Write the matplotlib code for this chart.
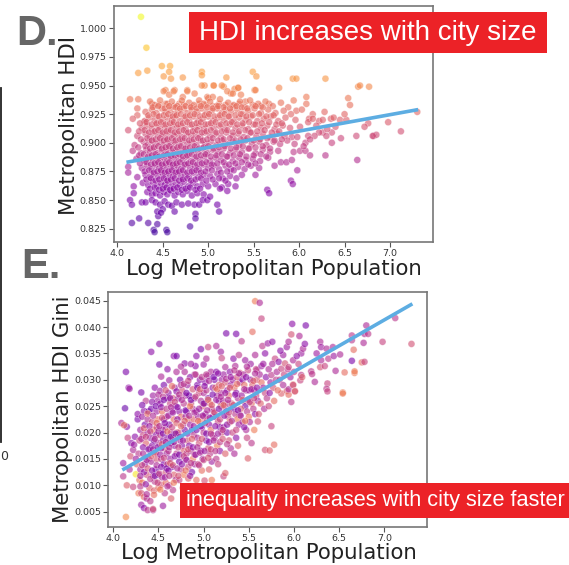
import matplotlib
matplotlib.use("Agg")
import numpy as np
import matplotlib.pyplot as plt
from matplotlib.patches import Rectangle
from matplotlib.lines import Line2D

# ---- panel D: log population vs metropolitan HDI ----
hdi_logpop = [
    4.26, 4.32, 4.23, 4.33, 4.49, 4.58, 4.51, 4.57, 4.59, 4.72,
    4.93, 4.93, 5.06, 4.96, 5.20, 5.17, 5.49, 5.53, 5.51, 5.78,
    5.93, 5.33, 5.29, 5.25, 4.14, 4.23, 4.53, 4.63, 4.77, 4.85,
    4.99, 5.97, 6.29, 6.65, 6.67, 6.77, 6.54, 6.56, 5.94, 6.08,
    6.08, 5.97, 6.28, 7.30, 6.98, 6.76, 6.72, 6.82, 6.85, 7.12,
    4.51, 4.57, 4.62, 4.77, 4.72, 4.93, 5.06, 5.15, 5.21, 5.27,
    5.33, 5.36, 5.52, 5.41, 5.00, 5.05, 4.38, 4.46, 4.53, 4.62,
    4.68, 4.73, 4.82, 4.90, 4.97, 5.05, 5.12, 5.19, 5.27, 5.34,
    5.49, 5.58, 5.67, 4.22, 4.22, 4.30,
    4.36, 4.41, 4.47, 4.55, 4.60, 4.66, 4.71, 4.79, 4.84, 4.90, 4.95, 5.02,
    5.09, 5.13, 5.22, 5.28, 5.35, 5.40, 5.46, 5.55, 5.63, 5.71, 5.80, 5.88,
    4.31, 4.38, 4.43, 4.49, 4.53, 4.58, 4.62, 4.67, 4.73, 4.77, 4.82, 4.88, 4.93, 4.98, 5.04,
    5.10, 5.15, 5.19, 5.25, 5.32, 5.38, 5.44, 5.51, 5.58, 5.66, 5.74, 5.83, 5.91, 6.03, 6.15,
    4.17, 4.30, 4.35, 4.41, 4.45, 4.50, 4.55, 4.60, 4.64, 4.69, 4.74, 4.79, 4.84, 4.89, 4.94, 5.00, 5.05,
    5.11, 5.17, 5.22, 5.28, 5.34, 5.41, 5.47, 5.54, 5.61, 5.69, 5.77, 5.85, 5.96, 6.11, 6.22, 6.35, 6.45,
    4.12, 4.27, 4.33, 4.38, 4.43, 4.47, 4.52, 4.56, 4.61, 4.65, 4.70, 4.75, 4.80, 4.85, 4.90, 4.95, 5.00,
    5.06, 5.12, 5.18, 5.24, 5.30, 5.37, 5.44, 5.50, 5.58, 5.65, 5.73, 5.82, 5.90, 6.01, 6.19, 6.40,
    4.22, 4.31, 4.36, 4.40, 4.45, 4.49, 4.53, 4.57, 4.62, 4.66, 4.71, 4.76, 4.81, 4.86, 4.91, 4.96, 5.02,
    5.08, 5.14, 5.20, 5.27, 5.33, 5.39, 5.46, 5.53, 5.60, 5.68, 5.76, 5.84, 5.92, 6.10, 6.26, 6.36,
    4.19, 4.29, 4.34, 4.38, 4.42, 4.47, 4.51, 4.55, 4.59, 4.63, 4.68, 4.72, 4.77, 4.82, 4.87, 4.92, 4.97,
    5.03, 5.09, 5.15, 5.21, 5.27, 5.34, 5.41, 5.48, 5.56, 5.64, 5.72, 5.79, 5.87, 5.95, 6.07, 6.36,
    4.17, 4.26, 4.32, 4.36, 4.40, 4.44, 4.49, 4.53, 4.57, 4.61, 4.65, 4.70, 4.74, 4.79, 4.84, 4.89, 4.94,
    4.99, 5.05, 5.11, 5.17, 5.24, 5.30, 5.37, 5.44, 5.52, 5.60, 5.68, 5.77, 5.94, 6.01, 6.07, 6.12, 6.29,
    4.21, 4.30, 4.35, 4.39, 4.43, 4.47, 4.51, 4.55, 4.59, 4.63, 4.67, 4.72, 4.76, 4.81, 4.86, 4.91,
    4.96, 5.02, 5.08, 5.14, 5.20, 5.27, 5.34, 5.41, 5.49, 5.57, 5.66, 5.73, 5.80, 5.86, 5.92, 6.64,
    4.12, 4.27, 4.33, 4.38, 4.42, 4.46, 4.50, 4.54, 4.58, 4.62, 4.66, 4.70, 4.75,
    4.80, 4.85, 4.90, 4.95, 5.00, 5.06, 5.12, 5.19, 5.25, 5.33, 5.40, 5.47, 5.56,
    4.12, 4.22, 4.31, 4.36, 4.40, 4.45, 4.49, 4.53, 4.57, 4.61, 4.66, 4.70, 4.74,
    4.79, 4.84, 4.89, 4.95, 5.02, 5.10, 5.16, 5.24, 5.31, 5.37, 5.52, 5.98,
    4.18, 4.28, 4.34, 4.39, 4.44, 4.48, 4.52, 4.56, 4.60, 4.64, 4.69, 4.73,
    4.78, 4.83, 4.88, 4.94, 5.00, 5.08, 5.15, 5.22, 5.30, 5.91, 5.93,
    4.18, 4.33, 4.38, 4.42, 4.47, 4.51, 4.55, 4.59, 4.63, 4.67,
    4.72, 4.77, 4.82, 4.88, 4.95, 5.13, 5.21, 5.65, 5.67,
    4.14, 4.16, 4.27, 4.31, 4.38, 4.42, 4.47, 4.52, 4.56, 4.60,
    4.65, 4.71, 4.78, 4.85, 4.90, 4.94, 4.99, 5.10, 5.12,
    4.16, 4.24, 4.34, 4.40, 4.54, 4.44, 4.45, 4.44, 4.50, 4.80,
    4.86, 4.55, 4.63, 4.86, 5.02, 4.41, 4.48,
    6.22, 6.17, 6.30, 6.12, 6.05, 5.98, 6.46, 6.63, 6.81, 6.10,
    6.15, 6.26, 6.38, 6.52, 6.50, 6.31,
    # denser core, in between the rows above
    4.39, 4.45, 4.52, 4.57, 4.64, 4.69, 4.75, 4.81, 4.87, 4.92,
    4.99, 5.05, 5.11, 5.17, 5.24, 5.31, 5.37, 5.43, 5.52, 5.60,
    4.34, 4.40, 4.46, 4.51, 4.56, 4.61, 4.65, 4.70, 4.75, 4.80, 4.85, 4.91, 4.96,
    5.01, 5.07, 5.13, 5.18, 5.23, 5.30, 5.36, 5.42, 5.49, 5.56, 5.64, 5.72,
    4.25, 4.32, 4.38, 4.43, 4.48, 4.53, 4.58, 4.62, 4.67, 4.72, 4.77, 4.82, 4.87, 4.92,
    4.97, 5.03, 5.08, 5.14, 5.20, 5.26, 5.32, 5.38, 5.45, 5.52, 5.59, 5.67, 5.75, 5.81,
    4.24, 4.30, 4.35, 4.41, 4.45, 4.50, 4.54, 4.59, 4.63, 4.68, 4.73, 4.78, 4.83, 4.88,
    4.93, 4.98, 5.03, 5.09, 5.15, 5.21, 5.27, 5.34, 5.41, 5.47, 5.54, 5.62, 5.70, 5.78,
    4.26, 4.33, 4.38, 4.42, 4.47, 4.51, 4.55, 4.60, 4.64, 4.69, 4.74, 4.79, 4.84, 4.89,
    4.94, 4.99, 5.05, 5.11, 5.17, 5.24, 5.30, 5.36, 5.43, 5.50, 5.57, 5.65, 5.73, 5.81,
    4.23, 4.31, 4.36, 4.40, 4.45, 4.49, 4.53, 4.57, 4.61, 4.66, 4.70, 4.75, 4.80, 4.85,
    4.90, 4.95, 5.00, 5.06, 5.12, 5.18, 5.25, 5.31, 5.38, 5.45, 5.52, 5.60, 5.68,
    4.24, 4.29, 4.34, 4.38, 4.42, 4.46, 4.51, 4.55, 4.59, 4.63, 4.68, 4.72, 4.77, 4.82,
    4.87, 4.92, 4.97, 5.03, 5.09, 5.15, 5.21, 5.28, 5.35, 5.42, 5.50, 5.58, 5.64,
    4.25, 4.32, 4.37, 4.41, 4.45, 4.49, 4.53, 4.57, 4.61, 4.65, 4.69, 4.74, 4.78,
    4.83, 4.88, 4.93, 4.98, 5.04, 5.10, 5.17, 5.23, 5.30, 5.37, 5.44, 5.52,
    4.30, 4.35, 4.40, 4.44, 4.48, 4.52, 4.56, 4.60, 4.64, 4.68,
    4.72, 4.77, 4.82, 4.87, 4.92, 4.97, 5.04, 5.14, 5.21, 5.28,
    4.32, 4.37, 4.42, 4.46, 4.51, 4.55, 4.59, 4.63, 4.68,
    4.72, 4.77, 4.81, 4.86, 4.92, 4.98, 5.05, 5.12, 5.19,
    4.36, 4.41, 4.46, 4.50, 4.54, 4.58, 4.62, 4.66, 4.71, 4.75, 4.80, 4.86, 4.91,
]
hdi_value = [
    1.010, 0.983, 0.961, 0.963, 0.967, 0.967, 0.958, 0.962, 0.956, 0.957,
    0.962, 0.959, 0.950, 0.950, 0.957, 0.949, 0.962, 0.958, 0.946, 0.948,
    0.956, 0.948, 0.947, 0.943, 0.938, 0.938, 0.946, 0.946, 0.946, 0.943,
    0.940, 0.956, 0.956, 0.949, 0.950, 0.949, 0.939, 0.933, 0.937, 0.940,
    0.934, 0.928, 0.927, 0.927, 0.918, 0.917, 0.914, 0.906, 0.907, 0.910,
    0.945, 0.942, 0.945, 0.945, 0.940, 0.950, 0.950, 0.950, 0.945, 0.943,
    0.948, 0.942, 0.946, 0.936, 0.939, 0.940, 0.934, 0.933, 0.934, 0.932,
    0.934, 0.933, 0.932, 0.934, 0.933, 0.932, 0.934, 0.933, 0.932, 0.934,
    0.933, 0.932, 0.934, 0.930, 0.924, 0.918,
    0.936, 0.933, 0.937, 0.934, 0.936, 0.932, 0.937, 0.935, 0.933, 0.937, 0.934, 0.936,
    0.932, 0.938, 0.935, 0.933, 0.936, 0.931, 0.937, 0.934, 0.936, 0.932, 0.935, 0.931,
    0.927, 0.929, 0.926, 0.930, 0.927, 0.929, 0.925, 0.928, 0.930, 0.926, 0.929, 0.927, 0.930, 0.926, 0.928,
    0.930, 0.926, 0.929, 0.927, 0.929, 0.925, 0.928, 0.930, 0.926, 0.929, 0.926, 0.928, 0.925, 0.929, 0.925,
    0.921, 0.919, 0.922, 0.920, 0.923, 0.919, 0.922, 0.920, 0.923, 0.919, 0.922, 0.920, 0.923, 0.919, 0.921, 0.923, 0.919,
    0.922, 0.920, 0.923, 0.919, 0.922, 0.920, 0.923, 0.919, 0.921, 0.923, 0.919, 0.922, 0.920, 0.921, 0.919, 0.921, 0.920,
    0.911, 0.913, 0.915, 0.912, 0.916, 0.913, 0.915, 0.912, 0.916, 0.913, 0.915, 0.912, 0.916, 0.913, 0.915, 0.912, 0.916,
    0.913, 0.915, 0.912, 0.916, 0.913, 0.915, 0.912, 0.916, 0.913, 0.915, 0.912, 0.915, 0.913, 0.914, 0.915, 0.914,
    0.906, 0.908, 0.905, 0.909, 0.906, 0.908, 0.905, 0.909, 0.906, 0.908, 0.905, 0.909, 0.906, 0.908, 0.905, 0.909, 0.906,
    0.908, 0.905, 0.909, 0.906, 0.908, 0.905, 0.909, 0.906, 0.908, 0.905, 0.908, 0.906, 0.905, 0.906, 0.909, 0.909,
    0.898, 0.901, 0.899, 0.902, 0.899, 0.901, 0.898, 0.902, 0.899, 0.901, 0.898, 0.902, 0.899, 0.901, 0.898, 0.902, 0.899,
    0.901, 0.898, 0.902, 0.899, 0.901, 0.898, 0.902, 0.899, 0.901, 0.898, 0.901, 0.899, 0.902, 0.899, 0.900, 0.900,
    0.893, 0.891, 0.894, 0.892, 0.895, 0.891, 0.894, 0.892, 0.895, 0.891, 0.894, 0.892, 0.895, 0.891, 0.894, 0.892, 0.895,
    0.891, 0.894, 0.892, 0.895, 0.891, 0.894, 0.892, 0.895, 0.891, 0.894, 0.892, 0.893, 0.892, 0.893, 0.893, 0.889, 0.889,
    0.886, 0.884, 0.887, 0.885, 0.888, 0.884, 0.887, 0.885, 0.888, 0.884, 0.887, 0.885, 0.888, 0.884, 0.887, 0.885,
    0.888, 0.884, 0.887, 0.885, 0.888, 0.884, 0.887, 0.885, 0.886, 0.884, 0.887, 0.880, 0.883, 0.883, 0.885, 0.885,
    0.879, 0.878, 0.880, 0.877, 0.881, 0.878, 0.880, 0.877, 0.881, 0.878, 0.880, 0.877, 0.881,
    0.878, 0.880, 0.877, 0.881, 0.878, 0.880, 0.877, 0.880, 0.877, 0.879, 0.877, 0.880, 0.878,
    0.874, 0.870, 0.872, 0.870, 0.873, 0.871, 0.874, 0.870, 0.873, 0.871, 0.874, 0.870, 0.873,
    0.871, 0.874, 0.870, 0.872, 0.871, 0.873, 0.869, 0.871, 0.869, 0.872, 0.872, 0.876,
    0.862, 0.865, 0.863, 0.866, 0.862, 0.865, 0.863, 0.866, 0.862, 0.865, 0.863, 0.866,
    0.862, 0.865, 0.862, 0.864, 0.862, 0.864, 0.861, 0.864, 0.862, 0.867, 0.864,
    0.856, 0.857, 0.855, 0.856, 0.854, 0.857, 0.855, 0.858, 0.854, 0.857,
    0.855, 0.858, 0.854, 0.856, 0.855, 0.860, 0.858, 0.859, 0.856,
    0.850, 0.846, 0.848, 0.848, 0.850, 0.848, 0.846, 0.849, 0.846, 0.845,
    0.848, 0.846, 0.847, 0.846, 0.846, 0.850, 0.850, 0.846, 0.840,
    0.830, 0.834, 0.830, 0.824, 0.824, 0.829, 0.836, 0.840, 0.842, 0.827,
    0.838, 0.822, 0.840, 0.834, 0.853, 0.822, 0.839,
    0.909, 0.906, 0.906, 0.903, 0.897, 0.905, 0.904, 0.906, 0.906, 0.918,
    0.921, 0.920, 0.922, 0.920, 0.925, 0.912,
    # denser core
    0.931, 0.932, 0.930, 0.932, 0.931, 0.930, 0.932, 0.931, 0.930, 0.932,
    0.931, 0.930, 0.932, 0.931, 0.930, 0.932, 0.931, 0.930, 0.932, 0.931,
    0.924, 0.925, 0.923, 0.924, 0.925, 0.923, 0.924, 0.925, 0.923, 0.924, 0.925, 0.923, 0.924,
    0.925, 0.923, 0.924, 0.925, 0.923, 0.924, 0.925, 0.923, 0.924, 0.925, 0.923, 0.924,
    0.917, 0.918, 0.916, 0.917, 0.918, 0.916, 0.917, 0.918, 0.916, 0.917, 0.918, 0.916, 0.917, 0.918,
    0.916, 0.917, 0.918, 0.916, 0.917, 0.918, 0.916, 0.917, 0.918, 0.916, 0.917, 0.918, 0.916, 0.917,
    0.910, 0.911, 0.909, 0.910, 0.911, 0.909, 0.910, 0.911, 0.909, 0.910, 0.911, 0.909, 0.910, 0.911,
    0.909, 0.910, 0.911, 0.909, 0.910, 0.911, 0.909, 0.910, 0.911, 0.909, 0.910, 0.911, 0.909, 0.910,
    0.903, 0.904, 0.902, 0.903, 0.904, 0.902, 0.903, 0.904, 0.902, 0.903, 0.904, 0.902, 0.903, 0.904,
    0.902, 0.903, 0.904, 0.902, 0.903, 0.904, 0.902, 0.903, 0.904, 0.902, 0.903, 0.904, 0.902, 0.903,
    0.896, 0.897, 0.895, 0.896, 0.897, 0.895, 0.896, 0.897, 0.895, 0.896, 0.897, 0.895, 0.896, 0.897,
    0.895, 0.896, 0.897, 0.895, 0.896, 0.897, 0.895, 0.896, 0.897, 0.895, 0.896, 0.897, 0.895,
    0.889, 0.890, 0.888, 0.889, 0.890, 0.888, 0.889, 0.890, 0.888, 0.889, 0.890, 0.888, 0.889, 0.890,
    0.888, 0.889, 0.890, 0.888, 0.889, 0.890, 0.888, 0.889, 0.890, 0.888, 0.889, 0.890, 0.888,
    0.882, 0.883, 0.881, 0.882, 0.883, 0.881, 0.882, 0.883, 0.881, 0.882, 0.883, 0.881, 0.882,
    0.883, 0.881, 0.882, 0.883, 0.881, 0.882, 0.883, 0.881, 0.882, 0.883, 0.881, 0.882,
    0.875, 0.876, 0.874, 0.875, 0.876, 0.874, 0.875, 0.876, 0.874, 0.875,
    0.876, 0.874, 0.875, 0.876, 0.874, 0.875, 0.876, 0.874, 0.875, 0.876,
    0.868, 0.869, 0.867, 0.868, 0.869, 0.867, 0.868, 0.869, 0.867,
    0.868, 0.869, 0.867, 0.868, 0.869, 0.867, 0.868, 0.869, 0.867,
    0.860, 0.861, 0.859, 0.860, 0.861, 0.859, 0.860, 0.861, 0.859, 0.860, 0.861, 0.859, 0.860,
]

# ---- panel E: log population vs HDI Gini, coloured by the city's HDI ----
gini_logpop = [
    4.11, 4.11, 4.09, 4.15, 4.13, 4.12, 4.14, 4.17, 4.14, 4.18, 4.16, 4.19, 4.20, 4.18, 4.15,
    4.22, 4.22, 4.24, 4.25, 4.23, 4.26, 4.27, 4.28, 4.29, 4.30, 4.27, 4.29, 4.30, 4.28, 4.25,
    4.31, 4.31, 4.31, 4.34, 4.34, 4.34, 4.37, 4.38, 4.32, 4.33, 4.35, 4.36,
    4.33, 4.35, 4.37, 4.32, 4.38, 4.39, 4.36, 4.40, 4.39, 4.40, 4.34, 4.38,
    4.42, 4.44, 4.44, 4.44, 4.46, 4.42, 4.43, 4.45, 4.41, 4.43, 4.46, 4.42, 4.47,
    4.44, 4.48, 4.49, 4.47, 4.50, 4.48, 4.50, 4.45, 4.49, 4.46, 4.41, 4.48, 4.50,
    4.51, 4.51, 4.52, 4.53, 4.53, 4.55, 4.57, 4.52, 4.54, 4.56, 4.58, 4.52, 4.55, 4.57,
    4.59, 4.53, 4.56, 4.58, 4.54, 4.60, 4.59, 4.60, 4.56, 4.58, 4.55, 4.53, 4.60,
    4.62, 4.67, 4.70, 4.70, 4.64, 4.66, 4.61, 4.63, 4.65, 4.67, 4.62, 4.64, 4.66,
    4.68, 4.61, 4.63, 4.65, 4.67, 4.69, 4.62, 4.69, 4.70, 4.68, 4.64, 4.70, 4.66,
    4.73, 4.79, 4.79, 4.74, 4.76, 4.72, 4.78, 4.73, 4.75, 4.77, 4.79, 4.72,
    4.74, 4.76, 4.78, 4.80, 4.73, 4.75, 4.78, 4.80, 4.71, 4.77, 4.80,
    4.83, 4.82, 4.84, 4.86, 4.88, 4.81, 4.83, 4.85, 4.87, 4.89, 4.82,
    4.84, 4.86, 4.88, 4.90, 4.83, 4.87, 4.90, 4.85, 4.89, 4.81, 4.90,
    4.91, 4.91, 4.92, 5.00, 4.93, 4.95, 4.97, 4.99, 4.92, 4.94, 4.96,
    4.98, 5.00, 4.93, 4.95, 4.97, 4.99, 4.94, 4.98, 5.00, 4.96, 5.00,
    5.01, 5.04, 5.09, 5.02, 5.03, 5.05, 5.07, 5.09, 5.02, 5.04, 5.06,
    5.08, 5.10, 5.03, 5.05, 5.07, 5.09, 5.06, 5.10, 5.08, 5.01, 5.10,
    5.14, 5.14, 5.19, 5.20, 5.12, 5.13, 5.15, 5.17, 5.19, 5.11, 5.13,
    5.16, 5.18, 5.20, 5.12, 5.15, 5.18, 5.14, 5.20, 5.17, 5.19, 5.16,
    5.22, 5.24, 5.24, 5.25, 5.22, 5.24, 5.26, 5.28, 5.21, 5.23, 5.25,
    5.27, 5.29, 5.22, 5.26, 5.28, 5.30, 5.24, 5.30, 5.29, 5.27,
    5.33, 5.35, 5.36, 5.39, 5.40, 5.40, 5.32, 5.34, 5.36, 5.38, 5.31,
    5.33, 5.35, 5.37, 5.39, 5.32, 5.36, 5.38, 5.34, 5.40, 5.37,
    5.42, 5.46, 5.49, 5.47, 5.49, 5.43, 5.45, 5.47, 5.42, 5.44,
    5.46, 5.48, 5.50, 5.43, 5.45, 5.48, 5.50, 5.41, 5.44,
    5.54, 5.57, 5.57, 5.59, 5.53, 5.60, 5.52, 5.54, 5.56, 5.58,
    5.60, 5.53, 5.55, 5.57, 5.59, 5.51, 5.56, 5.52, 5.58,
    5.62, 5.64, 5.64, 5.65, 5.68, 5.68, 5.62, 5.64, 5.66, 5.68, 5.70, 5.63, 5.67, 5.69, 5.61, 5.66,
    5.71, 5.75, 5.76, 5.79, 5.75, 5.78, 5.73, 5.72, 5.74, 5.77, 5.80, 5.73, 5.78, 5.76, 5.72,
    5.81, 5.83, 5.86, 5.88, 5.90, 5.86, 5.84, 5.88, 5.82, 5.85, 5.89,
    5.92, 5.93, 5.94, 5.94, 5.92, 5.94, 5.94, 5.97, 5.97, 5.98, 5.99, 5.99, 5.99, 5.96, 6.00,
    6.01, 6.01, 6.06, 6.07, 6.08, 6.09, 6.08, 6.10, 6.03, 6.05,
    6.12, 6.13, 6.19, 6.20, 6.23, 6.25, 6.29, 6.30, 6.29, 6.30, 6.34, 6.36, 6.38,
    6.43, 6.44, 6.51, 6.37, 6.36, 6.37, 6.46, 6.54, 6.56, 6.67, 6.64, 6.64, 6.66,
    6.64, 6.67, 6.75, 6.78, 6.77, 6.78, 6.82, 6.80, 6.98, 7.12, 7.30, 6.54,
    4.92, 5.03, 4.86, 4.97, 5.05, 4.60, 4.75,
    # denser core band
    4.30, 4.32, 4.33, 4.31, 4.34, 4.32, 4.30,
    4.36, 4.38, 4.37, 4.39, 4.36, 4.40, 4.38, 4.37,
    4.41, 4.43, 4.42, 4.44, 4.45, 4.41, 4.44, 4.43, 4.45,
    4.46, 4.48, 4.47, 4.49, 4.46, 4.50, 4.48, 4.47, 4.49, 4.50,
    4.51, 4.53, 4.52, 4.54, 4.55, 4.51, 4.54, 4.53, 4.55, 4.52,
    4.57, 4.59, 4.56, 4.58, 4.60, 4.57, 4.59, 4.56, 4.58, 4.60,
    4.61, 4.63, 4.62, 4.64, 4.65, 4.61, 4.63, 4.65, 4.62, 4.64,
    4.66, 4.68, 4.67, 4.69, 4.70, 4.66, 4.68, 4.70, 4.67,
    4.71, 4.73, 4.72, 4.74, 4.75, 4.71, 4.73, 4.75, 4.72,
    4.76, 4.78, 4.77, 4.79, 4.80, 4.76, 4.78, 4.80,
    4.81, 4.83, 4.82, 4.84, 4.85, 4.81, 4.83, 4.85,
    4.86, 4.88, 4.87, 4.89, 4.90, 4.86, 4.88, 4.90,
    4.91, 4.93, 4.92, 4.94, 4.95, 4.91, 4.93, 4.95,
    4.96, 4.98, 4.97, 4.99, 5.00, 4.96, 4.98, 5.00,
    5.01, 5.03, 5.02, 5.04, 5.05, 5.01, 5.03, 5.05,
    5.06, 5.08, 5.07, 5.09, 5.10, 5.06, 5.08,
    5.11, 5.13, 5.12, 5.14, 5.15, 5.11, 5.13,
    5.16, 5.18, 5.17, 5.19, 5.20, 5.16, 5.18,
    5.21, 5.23, 5.22, 5.24, 5.25, 5.21,
    5.26, 5.28, 5.27, 5.29, 5.30, 5.26,
    5.31, 5.33, 5.35, 5.37, 5.39, 5.36, 5.38, 5.34,
    5.41, 5.43, 5.45, 5.47, 5.49, 5.46, 5.48,
    5.51, 5.53, 5.55, 5.57, 5.59, 5.56,
]
gini_value = [
    0.0142, 0.0117, 0.0218, 0.0211, 0.0246, 0.0214, 0.0315, 0.0285, 0.0040, 0.0283, 0.0190, 0.0155, 0.0180, 0.0130, 0.0100,
    0.0167, 0.0097, 0.0192, 0.0121, 0.0177, 0.0140, 0.0225, 0.0160, 0.0110, 0.0205, 0.0235, 0.0185, 0.0130, 0.0085, 0.0150,
    0.0276, 0.0085, 0.0063, 0.0241, 0.0078, 0.0057, 0.0075, 0.0053, 0.0230, 0.0195, 0.0215, 0.0180,
    0.0160, 0.0140, 0.0120, 0.0105, 0.0200, 0.0240, 0.0260, 0.0170, 0.0150, 0.0095, 0.0125, 0.0225,
    0.0353, 0.0270, 0.0053, 0.0055, 0.0107, 0.0245, 0.0220, 0.0205, 0.0190, 0.0175, 0.0160, 0.0145, 0.0130,
    0.0118, 0.0240, 0.0225, 0.0195, 0.0180, 0.0150, 0.0120, 0.0090, 0.0260, 0.0285, 0.0070, 0.0210, 0.0095,
    0.0368, 0.0329, 0.0279, 0.0306, 0.0101, 0.0061, 0.0085, 0.0255, 0.0240, 0.0225, 0.0210, 0.0195, 0.0185, 0.0170,
    0.0160, 0.0150, 0.0140, 0.0125, 0.0115, 0.0190, 0.0230, 0.0265, 0.0290, 0.0105, 0.0205, 0.0170, 0.0140,
    0.0299, 0.0345, 0.0315, 0.0345, 0.0075, 0.0091, 0.0275, 0.0255, 0.0240, 0.0225, 0.0215, 0.0200, 0.0190,
    0.0175, 0.0165, 0.0150, 0.0135, 0.0120, 0.0110, 0.0100, 0.0250, 0.0200, 0.0285, 0.0180, 0.0160, 0.0265,
    0.0110, 0.0331, 0.0315, 0.0300, 0.0280, 0.0265, 0.0255, 0.0240, 0.0230, 0.0215, 0.0205, 0.0200,
    0.0185, 0.0175, 0.0165, 0.0150, 0.0145, 0.0130, 0.0120, 0.0230, 0.0225, 0.0095, 0.0270,
    0.0113, 0.0290, 0.0270, 0.0255, 0.0245, 0.0240, 0.0225, 0.0215, 0.0205, 0.0195, 0.0185,
    0.0175, 0.0165, 0.0150, 0.0140, 0.0135, 0.0125, 0.0310, 0.0305, 0.0225, 0.0160, 0.0265,
    0.0326, 0.0310, 0.0110, 0.0329, 0.0290, 0.0275, 0.0260, 0.0250, 0.0240, 0.0230, 0.0220,
    0.0210, 0.0200, 0.0190, 0.0180, 0.0165, 0.0150, 0.0140, 0.0128, 0.0275, 0.0300, 0.0230,
    0.0109, 0.0307, 0.0110, 0.0295, 0.0280, 0.0265, 0.0255, 0.0245, 0.0235, 0.0225, 0.0215,
    0.0205, 0.0195, 0.0185, 0.0170, 0.0160, 0.0145, 0.0130, 0.0285, 0.0315, 0.0255, 0.0230,
    0.0364, 0.0315, 0.0353, 0.0341, 0.0300, 0.0285, 0.0270, 0.0260, 0.0250, 0.0240, 0.0230,
    0.0220, 0.0210, 0.0200, 0.0190, 0.0175, 0.0165, 0.0150, 0.0300, 0.0290, 0.0275, 0.0140,
    0.0117, 0.0123, 0.0324, 0.0388, 0.0310, 0.0295, 0.0280, 0.0270, 0.0260, 0.0250, 0.0240,
    0.0230, 0.0220, 0.0210, 0.0200, 0.0185, 0.0170, 0.0160, 0.0290, 0.0315, 0.0255,
    0.0340, 0.0326, 0.0387, 0.0347, 0.0313, 0.0233, 0.0300, 0.0285, 0.0275, 0.0265, 0.0255,
    0.0245, 0.0235, 0.0225, 0.0215, 0.0200, 0.0190, 0.0175, 0.0160, 0.0295, 0.0305,
    0.0373, 0.0337, 0.0318, 0.0205, 0.0151, 0.0300, 0.0290, 0.0280, 0.0270, 0.0260,
    0.0250, 0.0240, 0.0230, 0.0220, 0.0210, 0.0190, 0.0280, 0.0245, 0.0310,
    0.0391, 0.0449, 0.0347, 0.0318, 0.0180, 0.0221, 0.0300, 0.0290, 0.0280, 0.0270,
    0.0260, 0.0255, 0.0245, 0.0235, 0.0300, 0.0220, 0.0205, 0.0330, 0.0320,
    0.0446, 0.0416, 0.0326, 0.0364, 0.0350, 0.0167, 0.0310, 0.0295, 0.0285, 0.0275, 0.0265, 0.0255, 0.0245, 0.0305, 0.0235, 0.0330,
    0.0369, 0.0309, 0.0372, 0.0340, 0.0212, 0.0177, 0.0166, 0.0320, 0.0295, 0.0285, 0.0300, 0.0275, 0.0260, 0.0330, 0.0250,
    0.0315, 0.0334, 0.0321, 0.0347, 0.0331, 0.0274, 0.0300, 0.0290, 0.0280, 0.0355, 0.0310,
    0.0362, 0.0320, 0.0372, 0.0324, 0.0279, 0.0272, 0.0282, 0.0258, 0.0386, 0.0406, 0.0337, 0.0291, 0.0290, 0.0305, 0.0315,
    0.0279, 0.0278, 0.0383, 0.0299, 0.0309, 0.0305, 0.0350, 0.0359, 0.0345, 0.0330,
    0.0368, 0.0403, 0.0316, 0.0311, 0.0296, 0.0350, 0.0372, 0.0362, 0.0324, 0.0337, 0.0326, 0.0359, 0.0340,
    0.0362, 0.0345, 0.0348, 0.0293, 0.0283, 0.0278, 0.0317, 0.0276, 0.0314, 0.0313, 0.0384, 0.0375, 0.0357,
    0.0336, 0.0316, 0.0333, 0.0334, 0.0370, 0.0387, 0.0387, 0.0403, 0.0372, 0.0417, 0.0368, 0.0274,
    0.0345, 0.0340, 0.0330, 0.0358, 0.0362, 0.0320, 0.0325,
    # denser core band
    0.0118, 0.0138, 0.0172, 0.0188, 0.0208, 0.0252, 0.0098,
    0.0102, 0.0132, 0.0148, 0.0168, 0.0192, 0.0212, 0.0236, 0.0083,
    0.0112, 0.0128, 0.0155, 0.0168, 0.0185, 0.0202, 0.0232, 0.0258, 0.0082,
    0.0118, 0.0138, 0.0162, 0.0172, 0.0188, 0.0202, 0.0218, 0.0250, 0.0105, 0.0272,
    0.0122, 0.0135, 0.0158, 0.0178, 0.0198, 0.0212, 0.0228, 0.0248, 0.0268, 0.0092,
    0.0115, 0.0132, 0.0152, 0.0182, 0.0202, 0.0218, 0.0245, 0.0262, 0.0280, 0.0098,
    0.0128, 0.0142, 0.0172, 0.0192, 0.0210, 0.0232, 0.0265, 0.0288, 0.0118, 0.0248,
    0.0138, 0.0155, 0.0182, 0.0198, 0.0218, 0.0238, 0.0258, 0.0278, 0.0105,
    0.0132, 0.0158, 0.0172, 0.0192, 0.0212, 0.0248, 0.0272, 0.0290, 0.0118,
    0.0140, 0.0155, 0.0185, 0.0222, 0.0242, 0.0262, 0.0292, 0.0128,
    0.0148, 0.0168, 0.0198, 0.0232, 0.0250, 0.0275, 0.0298, 0.0118,
    0.0142, 0.0172, 0.0188, 0.0212, 0.0238, 0.0262, 0.0282, 0.0158,
    0.0158, 0.0172, 0.0205, 0.0222, 0.0245, 0.0268, 0.0285, 0.0138,
    0.0162, 0.0188, 0.0212, 0.0232, 0.0255, 0.0282, 0.0305, 0.0148,
    0.0165, 0.0198, 0.0218, 0.0242, 0.0262, 0.0288, 0.0310, 0.0152,
    0.0182, 0.0198, 0.0228, 0.0252, 0.0272, 0.0298, 0.0168,
    0.0185, 0.0212, 0.0238, 0.0262, 0.0282, 0.0305, 0.0165,
    0.0198, 0.0225, 0.0245, 0.0268, 0.0288, 0.0312, 0.0182,
    0.0205, 0.0232, 0.0252, 0.0275, 0.0302, 0.0188,
    0.0215, 0.0238, 0.0262, 0.0285, 0.0305, 0.0178,
    0.0222, 0.0252, 0.0272, 0.0292, 0.0312, 0.0205, 0.0242, 0.0318,
    0.0232, 0.0262, 0.0282, 0.0305, 0.0262, 0.0222, 0.0325,
    0.0258, 0.0282, 0.0298, 0.0312, 0.0285, 0.0265,
]
gini_hdi = [
    0.87, 0.89, 0.88, 0.86, 0.84, 0.93, 0.85, 0.86, 0.95, 0.87, 0.90, 0.91, 0.86, 0.88, 0.92,
    0.88, 0.90, 0.86, 1.00, 0.87, 0.92, 0.85, 0.89, 0.93, 0.87, 0.86, 0.90, 0.88, 0.94, 0.87,
    0.85, 0.91, 0.87, 0.86, 0.93, 0.86, 0.88, 0.89, 0.87, 0.90, 0.85, 0.92,
    0.88, 0.86, 0.91, 0.94, 0.87, 0.85, 0.89, 0.90, 0.87, 0.92, 0.86, 0.88,
    0.86, 0.87, 0.88, 0.91, 0.89, 0.85, 0.90, 0.94, 0.87, 0.86, 0.92, 0.88, 0.85,
    0.90, 0.87, 0.93, 0.86, 0.88, 0.91, 0.85, 0.92, 0.87, 0.86, 0.89, 0.90, 0.93,
    0.86, 0.85, 0.87, 0.88, 0.91, 0.87, 0.89, 0.86, 0.93, 0.85, 0.88, 0.90, 0.86, 0.92,
    0.87, 0.89, 0.85, 0.91, 0.88, 0.86, 0.90, 0.87, 0.85, 0.93, 0.88, 0.86, 0.90,
    0.87, 0.86, 0.88, 0.85, 0.92, 0.89, 0.86, 0.90, 0.87, 0.93, 0.85, 0.88, 0.91,
    0.86, 0.89, 0.87, 0.85, 0.92, 0.88, 0.90, 0.86, 0.94, 0.87, 0.85, 0.89, 0.91,
    0.90, 0.86, 0.88, 0.85, 0.91, 0.87, 0.89, 0.86, 0.93, 0.88, 0.85, 0.90,
    0.87, 0.86, 0.92, 0.88, 0.85, 0.89, 0.94, 0.87, 0.86, 0.91, 0.88,
    0.92, 0.87, 0.85, 0.90, 0.88, 0.86, 0.93, 0.87, 0.85, 0.89, 0.91,
    0.86, 0.88, 0.94, 0.87, 0.90, 0.85, 0.88, 0.86, 0.92, 0.89, 0.87,
    0.86, 0.89, 0.93, 0.87, 0.85, 0.90, 0.88, 0.92, 0.86, 0.87, 0.94,
    0.85, 0.89, 0.88, 0.91, 0.86, 0.87, 0.90, 0.93, 0.88, 0.86, 0.91,
    0.91, 0.87, 0.94, 0.86, 0.89, 0.85, 0.92, 0.88, 0.87, 0.90, 0.86,
    0.93, 0.88, 0.85, 0.91, 0.89, 0.87, 0.92, 0.86, 0.88, 0.90, 0.85,
    0.88, 0.86, 0.87, 0.90, 0.85, 0.92, 0.88, 0.86, 0.93, 0.89, 0.87,
    0.90, 0.85, 0.91, 0.88, 0.94, 0.86, 0.89, 0.87, 0.92, 0.88, 0.90,
    0.90, 0.92, 0.88, 0.85, 0.87, 0.91, 0.86, 0.93, 0.88, 0.89, 0.86,
    0.90, 0.94, 0.87, 0.85, 0.91, 0.88, 0.92, 0.87, 0.86, 0.89,
    0.86, 0.88, 0.85, 0.89, 0.92, 0.90, 0.87, 0.93, 0.86, 0.88, 0.91,
    0.85, 0.89, 0.94, 0.87, 0.90, 0.86, 0.92, 0.88, 0.87, 0.91,
    0.89, 0.87, 0.90, 0.88, 0.92, 0.86, 0.93, 0.88, 0.87, 0.91,
    0.85, 0.89, 0.94, 0.88, 0.86, 0.90, 0.87, 0.92, 0.88,
    0.93, 0.94, 0.88, 0.87, 0.89, 0.91, 0.86, 0.92, 0.88, 0.90,
    0.87, 0.93, 0.89, 0.86, 0.91, 0.88, 0.94, 0.87, 0.90,
    0.88, 0.90, 0.87, 0.89, 0.86, 0.91, 0.88, 0.93, 0.87, 0.90, 0.89, 0.92, 0.88, 0.86, 0.91, 0.87,
    0.87, 0.89, 0.86, 0.90, 0.90, 0.93, 0.92, 0.88, 0.87, 0.91, 0.89, 0.86, 0.93, 0.88, 0.90,
    0.88, 0.86, 0.90, 0.87, 0.91, 0.92, 0.89, 0.88, 0.93, 0.86, 0.90,
    0.87, 0.89, 0.88, 0.90, 0.92, 0.93, 0.88, 0.89, 0.91, 0.86, 0.88, 0.94, 0.90, 0.87, 0.89,
    0.93, 0.91, 0.88, 0.90, 0.89, 0.92, 0.87, 0.88, 0.86, 0.90,
    0.86, 0.85, 0.89, 0.89, 0.88, 0.87, 0.88, 0.87, 0.91, 0.88, 0.90, 0.88, 0.89,
    0.88, 0.87, 0.88, 0.90, 0.89, 0.90, 0.88, 0.94, 0.93, 0.94, 0.89, 0.89, 0.93,
    0.85, 0.94, 0.93, 0.90, 0.88, 0.88, 0.89, 0.88, 0.90, 0.89, 0.91, 0.94,
    0.86, 0.88, 0.87, 0.85, 0.90, 0.86, 0.88,
    # denser core band
    0.87, 0.90, 0.86, 0.88, 0.92, 0.85, 0.89,
    0.86, 0.91, 0.88, 0.85, 0.90, 0.87, 0.93, 0.88,
    0.89, 0.86, 0.92, 0.87, 0.85, 0.90, 0.88, 0.86, 0.93,
    0.85, 0.88, 0.91, 0.86, 0.89, 0.87, 0.93, 0.85, 0.90, 0.88,
    0.90, 0.86, 0.87, 0.92, 0.85, 0.88, 0.91, 0.86, 0.89, 0.94,
    0.87, 0.85, 0.90, 0.88, 0.93, 0.86, 0.89, 0.85, 0.91, 0.88,
    0.86, 0.92, 0.88, 0.85, 0.90, 0.87, 0.86, 0.93, 0.89, 0.88,
    0.91, 0.86, 0.88, 0.85, 0.92, 0.87, 0.90, 0.86, 0.94,
    0.88, 0.85, 0.90, 0.87, 0.93, 0.86, 0.89, 0.88, 0.91,
    0.86, 0.90, 0.87, 0.92, 0.85, 0.88, 0.89, 0.93,
    0.87, 0.91, 0.86, 0.88, 0.94, 0.85, 0.90, 0.87,
    0.89, 0.86, 0.92, 0.87, 0.88, 0.85, 0.91, 0.90,
    0.86, 0.88, 0.85, 0.93, 0.87, 0.90, 0.86, 0.89,
    0.88, 0.91, 0.86, 0.87, 0.85, 0.92, 0.89, 0.90,
    0.87, 0.85, 0.90, 0.88, 0.93, 0.86, 0.89, 0.91,
    0.86, 0.89, 0.87, 0.92, 0.85, 0.88, 0.90,
    0.88, 0.86, 0.91, 0.87, 0.93, 0.85, 0.89,
    0.87, 0.90, 0.85, 0.88, 0.92, 0.86, 0.89,
    0.89, 0.86, 0.93, 0.87, 0.88, 0.91,
    0.86, 0.90, 0.88, 0.92, 0.87, 0.89,
    0.88, 0.91, 0.86, 0.93, 0.87, 0.90, 0.85, 0.89,
    0.87, 0.92, 0.88, 0.86, 0.90, 0.94, 0.88,
    0.89, 0.87, 0.92, 0.88, 0.86, 0.90,
]

# fitted trend lines as drawn in the figure (end points)
trend_logpop = [4.10, 7.31]
hdi_trend = [0.883, 0.929]
gini_trend = [0.0129, 0.0444]

hdi_ticks = [0.825, 0.850, 0.875, 0.900, 0.925, 0.950, 0.975, 1.000]
gini_ticks = [0.005, 0.010, 0.015, 0.020, 0.025, 0.030, 0.035, 0.040, 0.045]
pop_ticks = [4.0, 4.5, 5.0, 5.5, 6.0, 6.5, 7.0]

W, H = 569, 565
fig = plt.figure(figsize=(W / 100, H / 100), dpi=100)

def fx(px):
    return px / W

def fy(py):
    return 1 - py / H

ax_d = fig.add_axes([fx(113.7), fy(242), fx(432.7) - fx(113.7), fy(5.7) - fy(242)])
ax_e = fig.add_axes([fx(108.3), fy(527.3), fx(427.3) - fx(108.3), fy(291.7) - fy(527.3)])

norm = plt.Normalize(0.80, 1.01)
sc_kw = dict(cmap="plasma", norm=norm, s=25, alpha=0.6, edgecolors="white", linewidths=0.35)
trend_color = "#5dade2"

ax_d.scatter(hdi_logpop, hdi_value, c=hdi_value, **sc_kw)
ax_d.plot(trend_logpop, hdi_trend, color=trend_color, lw=2.6, solid_capstyle="butt")
ax_d.set_xlim(3.96, 7.47)
ax_d.set_ylim(0.8134, 1.0197)
ax_d.set_yticks(hdi_ticks)
ax_d.set_yticklabels([f"{v:.3f}" for v in hdi_ticks])

ax_e.scatter(gini_logpop, gini_value, c=gini_hdi, **sc_kw)
ax_e.plot(trend_logpop, gini_trend, color=trend_color, lw=2.6, solid_capstyle="butt")
ax_e.set_xlim(3.945, 7.475)
ax_e.set_ylim(0.00204, 0.0467)
ax_e.set_yticks(gini_ticks)
ax_e.set_yticklabels([f"{v:.3f}" for v in gini_ticks])

for ax in (ax_d, ax_e):
    ax.set_xticks(pop_ticks)
    ax.set_xticklabels([f"{v:.1f}" for v in pop_ticks])
    ax.tick_params(labelsize=6.8, labelcolor="#333333", color="#555555", length=3.5, width=0.8, pad=1.5)
    for sp in ax.spines.values():
        sp.set_color("#777777")
        sp.set_linewidth(1.2)

lab_kw = dict(fontsize=15.3, color="#222222", ha="center", va="center")
fig.text(fx(273.5), fy(269), "Log Metropolitan Population", **lab_kw)
fig.text(fx(268.5), fy(553), "Log Metropolitan Population", **lab_kw)
fig.text(fx(69), fy(125), "Metropolitan HDI", rotation=90, **lab_kw)
fig.text(fx(63), fy(409), "Metropolitan HDI Gini", rotation=90, **lab_kw)

# panel letters
fig.text(fx(16), fy(45), "D.", fontsize=30, fontweight="bold", color="#666666",
         family="Liberation Sans", ha="left", va="baseline")
fig.text(fx(21), fy(278), "E.", fontsize=30, fontweight="bold", color="#666666",
         family="Liberation Sans", ha="left", va="baseline")

# red callout boxes
red = "#ec2227"
fig.add_artist(Rectangle((fx(189), fy(53)), fx(547) - fx(189), fy(12) - fy(53),
                         transform=fig.transFigure, facecolor=red, edgecolor="none", zorder=5))
fig.text(fx(368), fy(33), "HDI increases with city size", fontsize=20, color="white",
         family="Liberation Sans", ha="center", va="center", zorder=6)
fig.add_artist(Rectangle((fx(180), fy(518)), fx(572) - fx(180), fy(483) - fy(518),
                         transform=fig.transFigure, facecolor=red, edgecolor="none", zorder=5))
fig.text(fx(375), fy(500.5), "inequality increases with city size faster", fontsize=15.7,
         color="white", family="Liberation Sans", ha="center", va="center", zorder=6)

# edge of the neighbouring panel cut off at the left
fig.add_artist(Line2D([fx(1.2), fx(1.2)], [fy(88), fy(442)], color="#222222", lw=1.3))
fig.text(fx(0.5), fy(457), "0", fontsize=9, color="#333333", ha="left", va="center")

fig.savefig("out.png", dpi=100)
